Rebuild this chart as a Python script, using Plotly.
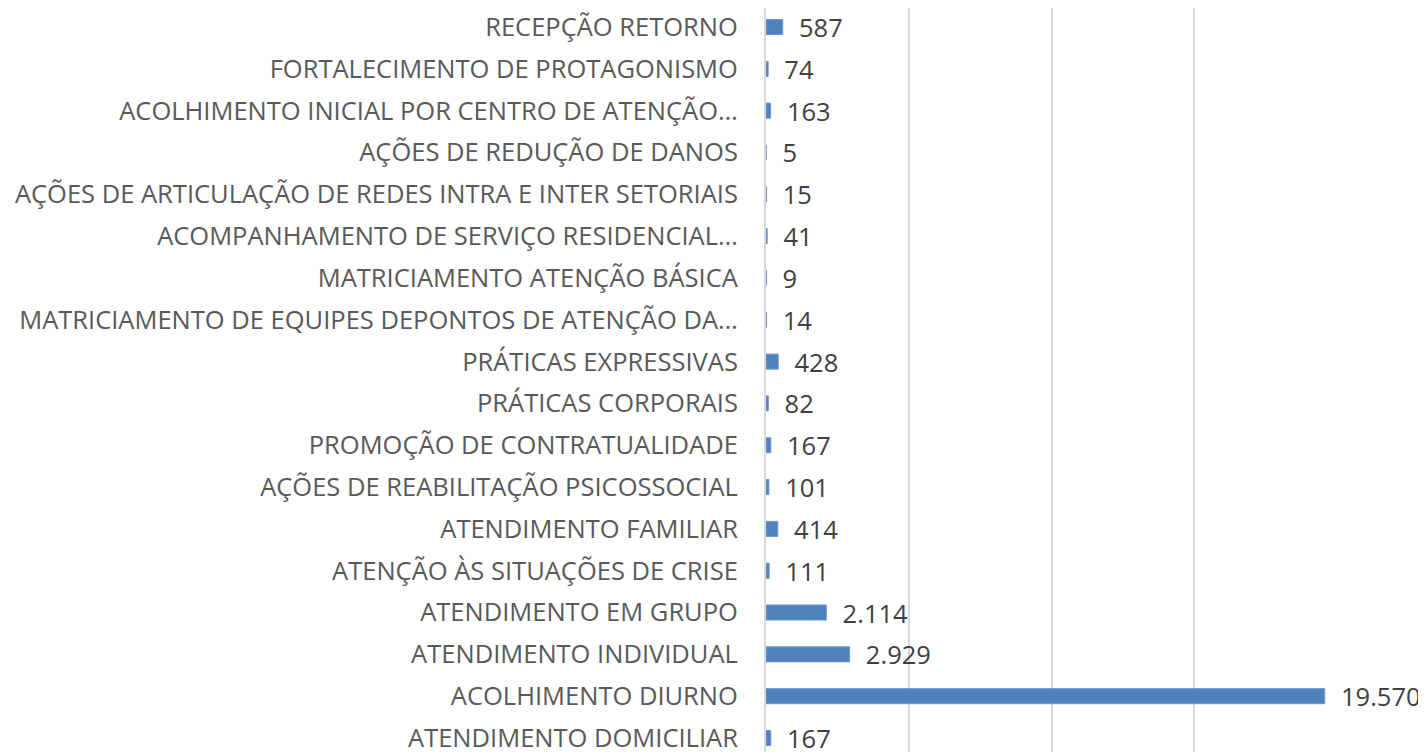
import plotly.graph_objects as go

categories = [
    "ATENDIMENTO DOMICILIAR",
    "ACOLHIMENTO DIURNO",
    "ATENDIMENTO INDIVIDUAL",
    "ATENDIMENTO EM GRUPO",
    "ATENÇÃO ÀS SITUAÇÕES DE CRISE",
    "ATENDIMENTO FAMILIAR",
    "AÇÕES DE REABILITAÇÃO PSICOSSOCIAL",
    "PROMOÇÃO DE CONTRATUALIDADE",
    "PRÁTICAS CORPORAIS",
    "PRÁTICAS EXPRESSIVAS",
    "MATRICIAMENTO DE EQUIPES DEPONTOS DE ATENÇÃO DA…",
    "MATRICIAMENTO ATENÇÃO BÁSICA",
    "ACOMPANHAMENTO DE SERVIÇO RESIDENCIAL…",
    "AÇÕES DE ARTICULAÇÃO DE REDES INTRA E INTER SETORIAIS",
    "AÇÕES DE REDUÇÃO DE DANOS",
    "ACOLHIMENTO INICIAL POR CENTRO DE ATENÇÃO…",
    "FORTALECIMENTO DE PROTAGONISMO",
    "RECEPÇÃO RETORNO",
]
values = [167, 19570, 2929, 2114, 111, 414, 101, 167, 82, 428, 14, 9, 41, 15, 5, 163, 74, 587]

def fmt(v):
    return "{:,}".format(v).replace(",", ".")

labels = ["  " + fmt(v) for v in values]

W, H = 1426, 752
FONT = "Open Sans"

fig = go.Figure(go.Bar(
    y=categories,
    x=values,
    orientation="h",
    marker=dict(color="#4F81BD", line=dict(color="#6E97CC", width=1)),
    width=0.36,
    text=labels,
    textposition="outside",
    textfont=dict(family=FONT, size=25.5, color="#404040"),
    constraintext="none",
    cliponaxis=False,
))

fig.update_layout(
    width=W, height=H,
    margin=dict(l=758, r=97, t=0, b=0),
    plot_bgcolor="white",
    paper_bgcolor="white",
    showlegend=False,
    xaxis=dict(
        range=[0, 20000],
        dtick=5000,
        showticklabels=False,
        showgrid=True,
        gridcolor="#D9D9D9",
        gridwidth=2,
        zeroline=False,
        showline=False,
        fixedrange=True,
    ),
    yaxis=dict(
        type="category",
        categoryorder="array",
        categoryarray=categories,
        range=[-0.526, 17.455],
        showline=True,
        linecolor="#D9D9D9",
        linewidth=2,
        showgrid=False,
        ticks="",
        ticklabelstandoff=21,
        tickfont=dict(family=FONT, size=25.5, color="#595959"),
        automargin=False,
        fixedrange=True,
    ),
)

fig.write_html("out.html")
